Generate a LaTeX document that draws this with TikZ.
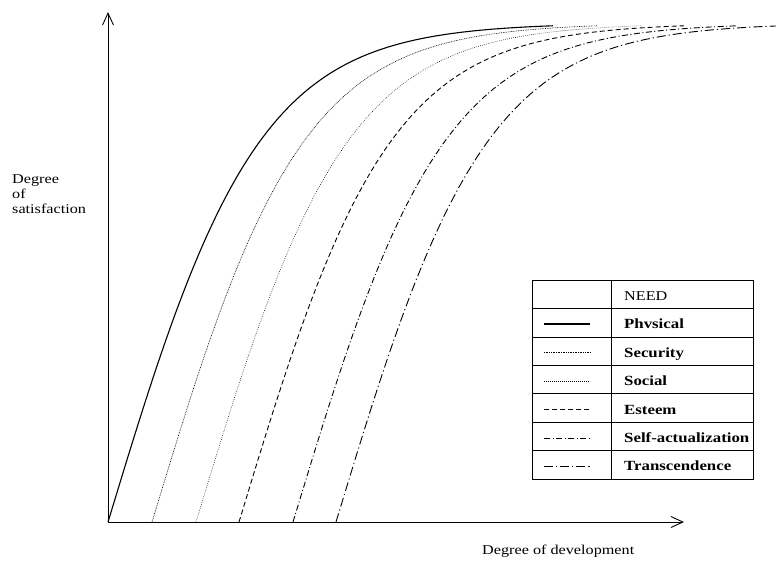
\documentclass[tikz,border=0pt]{standalone}
\usepackage{fontspec}
\setmainfont{Liberation Serif}[FakeStretch=1.2]
\usetikzlibrary{arrows.meta}

\begin{document}
\begin{tikzpicture}[x=1pt,y=-1pt,
  axis/.style={line width=0.9pt,
    -{Straight Barb[length=12pt,width=11pt,line width=0.9pt]}},
  curve/.style={line width=0.9pt},
  physical/.style={curve, line width=1.1pt},
  security/.style={curve, line width=0.6pt, dash pattern=on 0.8pt off 0.9pt},
  social/.style={curve, line width=0.6pt, dash pattern=on 0.6pt off 1.4pt},
  esteem/.style={curve, dash pattern=on 5pt off 3pt},
  selfact/.style={curve, dash pattern=on 6pt off 2.5pt on 1pt off 2.5pt},
  transc/.style={curve, dash pattern=on 9pt off 3pt on 1.2pt off 3pt},
  axlabel/.style={font=\fontsize{13.5}{15}\selectfont, inner sep=0pt, anchor=base west},
  legtext/.style={font=\fontsize{14}{15}\selectfont\bfseries, inner sep=0pt, anchor=base west},
  legframe/.style={line width=0.8pt},
  sample/.style={}
]
\useasboundingbox (0,0) rectangle (776,560);

% axes
\coordinate (O) at (108,522);
\coordinate (Ytop) at (108,12);
\coordinate (Xend) at (684,522);
\draw[axis] (O) -- (Ytop);
\draw[axis] (O) -- (Xend);

% axis labels
\node[axlabel] (ylab1) at (12,183) {Degree};
\node[axlabel] (ylab2) at (12,198) {of};
\node[axlabel] (ylab3) at (12,213) {satisfaction};
\node[axlabel] (xlab) at (482,554) {Degree of development};

% satisfaction curves: shifted copies of 499*tanh(k t)
\newcommand{\needcurve}[3]{%
  \draw[#1] plot[domain=0:#3, samples=150, smooth]
    ({#2+\x}, {522-499*tanh(0.0066*\x)});}
\needcurve{physical}{108}{445}
\needcurve{security}{152}{445}
\needcurve{social}{196}{445}
\needcurve{esteem}{239}{445}
\needcurve{selfact}{293}{445}
\needcurve{transc}{336}{440}

% legend table
\draw[legframe] (532,280) rectangle (753,479);
\draw[legframe] (611,280) -- (611,479);
\foreach \yy in {308.4,336.9,365.3,393.7,422.1,450.6}
  \draw[legframe] (532,\yy) -- (753,\yy);

\node[legtext, font=\fontsize{13.5}{15}\selectfont] (need) at (624,300) {NEED};
\node[legtext] (tphys) at (624,328.5) {Phvsical};
\node[legtext] (tsec) at (624,357) {Security};
\node[legtext] (tsoc) at (624,385.5) {Social};
\node[legtext] (test) at (624,414) {Esteem};
\node[legtext] (tself) at (624,442) {Self-actualization};
\node[legtext] (ttra) at (624,470.5) {Transcendence};

\draw[physical] (544,324) -- (590,324);
\draw[security] (544,352) -- (590,352);
\draw[social] (544,381) -- (590,381);
\draw[esteem] (544,409) -- (590,409);
\draw[selfact] (544,438) -- (590,438);
\draw[transc] (544,466) -- (590,466);
\end{tikzpicture}
\end{document}
